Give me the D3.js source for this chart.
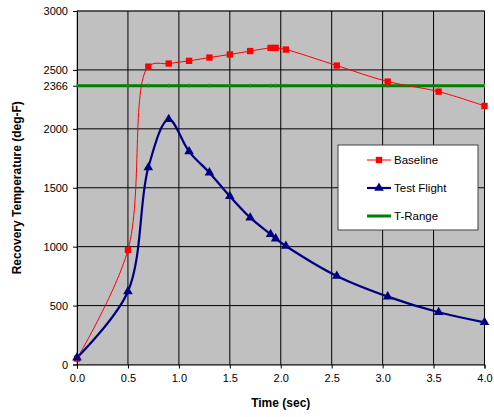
<!DOCTYPE html>
<html>
<head>
<meta charset="utf-8">
<script src="https://cdn.jsdelivr.net/npm/d3@7"></script>
<style>
body { margin: 0; background: #fff; }
text { font-family: "Liberation Sans", Arial, sans-serif; }
</style>
</head>
<body>
<div id="chart"></div>
<script>
// data
var baseTime = [0, 0.5, 0.7, 0.9, 1.1, 1.3, 1.5, 1.7, 1.9, 1.95, 2.05, 2.55, 3.05, 3.55, 4.0];
var baseTemp = [50, 972, 2528, 2554, 2577, 2605, 2631, 2660, 2687, 2687, 2673, 2537, 2401, 2316, 2194];
var testTime = [0, 0.5, 0.7, 0.9, 1.1, 1.3, 1.5, 1.7, 1.9, 1.95, 2.05, 2.55, 3.05, 3.55, 4.0];
var testTemp = [58, 620, 1672, 2081, 1807, 1628, 1428, 1246, 1105, 1068, 1006, 751, 576, 443, 358];
var tRange = 2366;
var xTicks = [0, 0.5, 1, 1.5, 2, 2.5, 3, 3.5, 4];
var yTicks = [0, 500, 1000, 1500, 2000, 2500, 3000];
var seriesNames = ['Baseline', 'Test Flight', 'T-Range'];

var W = 494, H = 417;
var margin = {left: 77, top: 11, right: 9.5, bottom: 52.5};
var pw = W - margin.left - margin.right, ph = H - margin.top - margin.bottom;

var svg = d3.select('#chart').append('svg')
    .attr('width', W)
    .attr('height', H);

var x = d3.scaleLinear().domain([0, 4]).range([0, pw]);
var y = d3.scaleLinear().domain([0, 3000]).range([ph, 0]);

var g = svg.append('g').attr('transform', 'translate(' + margin.left + ',' + margin.top + ')');

// plot area
g.append('rect')
    .attr('width', pw).attr('height', ph)
    .attr('fill', '#c0c0c0')
    .attr('stroke', '#808080');

// gridlines
g.selectAll('.vgrid').data(xTicks.slice(1)).enter().append('line')
    .attr('x1', function(d){ return x(d); }).attr('x2', function(d){ return x(d); })
    .attr('y1', 0).attr('y2', ph)
    .attr('stroke', '#000').attr('stroke-width', 1);
g.selectAll('.hgrid').data(yTicks.slice(1)).enter().append('line')
    .attr('x1', 0).attr('x2', pw)
    .attr('y1', function(d){ return y(d); }).attr('y2', function(d){ return y(d); })
    .attr('stroke', '#000').attr('stroke-width', 1);

// axes
var xAxis = d3.axisBottom(x).tickValues(xTicks).tickFormat(d3.format('.1f')).tickSize(4).tickPadding(6);
var yAxis = d3.axisLeft(y).tickValues(yTicks.concat([tRange])).tickFormat(d3.format('d')).tickSize(4).tickPadding(5);

var gx = g.append('g').attr('transform', 'translate(0,' + ph + ')').call(xAxis);
var gy = g.append('g').call(yAxis);
[gx, gy].forEach(function(a){
    a.select('.domain').attr('stroke', '#000');
    a.selectAll('text').attr('font-size', 11).attr('fill', '#000')
        .style('font-family', '"Liberation Sans", Arial, sans-serif');
});
gx.selectAll('.tick line').attr('stroke', '#000');
gy.selectAll('.tick line').attr('stroke', '#000');

// T-Range line
g.append('line')
    .attr('x1', x(0)).attr('x2', x(4))
    .attr('y1', y(tRange)).attr('y2', y(tRange))
    .attr('stroke', '#008000').attr('stroke-width', 3);
// faint point marks on T-Range at the baseline times
g.selectAll('.rm').data(baseTime).enter().append('line')
    .attr('x1', function(d){ return x(d); }).attr('x2', function(d){ return x(d); })
    .attr('y1', y(tRange) - 2).attr('y2', y(tRange) + 2)
    .attr('stroke', '#2e8b2e').attr('stroke-width', 1);

var line = d3.line().curve(d3.curveCatmullRom.alpha(0.5))
    .x(function(d){ return x(d[0]); })
    .y(function(d){ return y(d[1]); });

var basePts = d3.zip(baseTime, baseTemp);
var testPts = d3.zip(testTime, testTemp);

g.append('path').datum(basePts)
    .attr('d', line).attr('fill', 'none')
    .attr('stroke', '#ff0000').attr('stroke-width', 1);
g.append('path').datum(testPts)
    .attr('d', line).attr('fill', 'none')
    .attr('stroke', '#000080').attr('stroke-width', 2.2);

var sq = d3.symbol().type(d3.symbolSquare).size(40);
var tri = d3.symbol().type(d3.symbolTriangle).size(40);

g.selectAll('.bm').data(basePts).enter().append('path')
    .attr('d', sq)
    .attr('transform', function(d){ return 'translate(' + x(d[0]) + ',' + y(d[1]) + ')'; })
    .attr('fill', '#ff0000');
g.selectAll('.tm').data(testPts).enter().append('path')
    .attr('d', tri)
    .attr('transform', function(d){ return 'translate(' + x(d[0]) + ',' + y(d[1]) + ')'; })
    .attr('fill', '#000080');

// axis titles
svg.append('text')
    .attr('x', margin.left + pw / 2).attr('y', 407)
    .attr('text-anchor', 'middle')
    .attr('font-size', 12).attr('font-weight', 'bold')
    .text('Time (sec)');
svg.append('text')
    .attr('transform', 'translate(21,' + (margin.top + ph / 2) + ') rotate(-90)')
    .attr('text-anchor', 'middle')
    .attr('font-size', 12).attr('font-weight', 'bold')
    .text('Recovery Temperature (deg-F)');

// legend
var lg = svg.append('g').attr('transform', 'translate(338,145)');
lg.append('rect')
    .attr('width', 140).attr('height', 85)
    .attr('fill', '#fff').attr('stroke', '#404040').attr('stroke-width', 1);
var colors = ['#ff0000', '#000080', '#008000'];
var widths = [1, 2.2, 3];
seriesNames.forEach(function(name, i){
    var cy = 15 + i * 28;
    lg.append('line')
        .attr('x1', 29).attr('x2', 53).attr('y1', cy).attr('y2', cy)
        .attr('stroke', colors[i]).attr('stroke-width', widths[i]);
    if (i === 0) {
        lg.append('path').attr('d', sq).attr('transform', 'translate(41,' + cy + ')').attr('fill', colors[i]);
    } else if (i === 1) {
        lg.append('path').attr('d', tri).attr('transform', 'translate(41,' + cy + ')').attr('fill', colors[i]);
    }
    lg.append('text')
        .attr('x', 56).attr('y', cy + 4)
        .attr('font-size', 11.5)
        .text(name);
});
</script>
</body>
</html>
